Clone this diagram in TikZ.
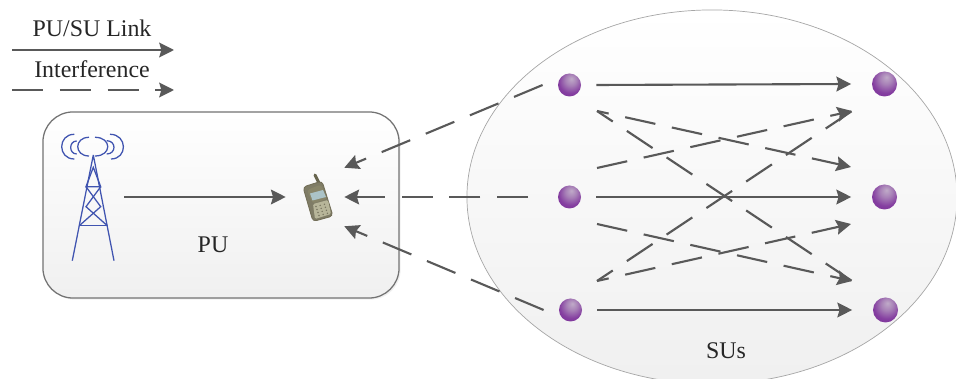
\documentclass[tikz,border=0pt]{standalone}
\usepackage{fontspec}
\usepackage{tikz}
\usetikzlibrary{arrows.meta,shapes.geometric,shadows}
\setmainfont{Liberation Serif}

\definecolor{linkgray}{HTML}{595959}
\definecolor{towerblue}{HTML}{4054B0}
\definecolor{ballpurple}{HTML}{7A2E98}
\pgfdeclareradialshading{sphere}{\pgfpoint{4bp}{14bp}}{color(0bp)=(ballpurple!35!white!80!gray); color(12bp)=(ballpurple!60!white!85!gray); color(26bp)=(ballpurple!92!white); color(40bp)=(ballpurple); color(50bp)=(ballpurple!75!white); color(62bp)=(ballpurple!55!white)}

\tikzset{
	link/.style={draw=linkgray,line width=1.5pt,-{Stealth[length=10.5pt,width=10.5pt,inset=1.5pt]}},
	jam/.style={link,dash pattern=on 22pt off 12pt},
	jamshort/.style={jam,dash phase=13.5pt},
	jammid/.style={jam,dash phase=8.5pt},
	ballnode/.style={shape=circle,shading=sphere,inner sep=0pt},
	region/.style={draw=gray!70,top color=white,bottom color=black!6},
	word/.style={text=black!85,font=\fontsize{17}{20}\selectfont},
	wave/.style={draw=towerblue,line width=.9pt},
}

\begin{document}
\begin{tikzpicture}[x=0.025cm,y=-0.025cm]
	\clip (0,0) rectangle (956,379);

	\node[region,shape=ellipse,line width=.5pt,minimum width=12.25cm,minimum height=9.35cm,inner sep=0pt] (cloud) at (712,197) {};
	\node[region,draw=black!55,shape=rectangle,line width=.9pt,rounded corners=.75cm,minimum width=8.9cm,minimum height=4.65cm,drop shadow={shadow xshift=.04cm,shadow yshift=-.04cm,opacity=.12}] (box) at (221,205) {};

	\node[ballnode,minimum size=.575cm,outer sep=.385cm] (s1) at (569.5,85)  {};
	\node[ballnode,minimum size=.575cm,outer sep=.385cm] (s2) at (569.5,197) {};
	\node[ballnode,minimum size=.575cm,outer sep=.385cm] (s3) at (570.5,310) {};
	\node[ballnode,minimum size=.625cm,outer sep=.52cm] (t1) at (884.5,84)  {};
	\node[ballnode,minimum size=.625cm,outer sep=.52cm] (t2) at (884.5,197) {};
	\node[ballnode,minimum size=.625cm,outer sep=.52cm] (t3) at (885.5,310) {};

	\node[minimum width=1.55cm,minimum height=3.2cm,inner sep=0pt] (tower) at (93,197) {};
	\node[minimum width=1.45cm,minimum height=1.45cm,inner sep=0pt] (phone) at (315,197) {};

	\node[word] (pu)   at (213,245) {PU};
	\node[word] (sus)  at (726,351) {SUs};
	\node[word] (lnk)  at (92,28)   {PU/SU Link};
	\node[word] (intf) at (92,69)   {Interference};

	\coordinate (l1) at (12,50);
	\coordinate (r1) at (174,50);
	\coordinate (l2) at (12,90);
	\coordinate (r2) at (174,90);
	\coordinate (a1) at (597,111);
	\coordinate (a2) at (597,168);
	\coordinate (a3) at (597,224);
	\coordinate (a4) at (597,281);
	\coordinate (b1) at (852,111);
	\coordinate (b2) at (851,167);
	\coordinate (b3) at (851,224);
	\coordinate (b4) at (852,281);

	% tower
	\draw[wave] (93.3,155) -- (72.3,260.7) (93.3,155) -- (114,260.7);
	\draw[wave] (93.3,167.3) -- (86,186.7) -- (100.7,186.7) -- cycle;
	\draw[wave] (79.3,225.7) -- (107.3,225.7);
	\draw[wave] (86,186.7) -- (100.7,206.7) -- (79.3,225.7);
	\draw[wave] (100.7,186.7) -- (86,206.7) -- (107.3,225.7);
	\foreach \xa/\ya/\xc/\xb/\yb in {89/137.3/74/89/156, 76.7/141/68.7/76.7/154, 74.3/134.3/57.5/74.3/159, 95/137.3/112/95/156, 106.7/140.7/116.4/106.7/154, 110/134.3/127.7/111/159}
		\draw[wave] (\xa,\ya) .. controls (\xc,\ya) and (\xc,\yb) .. (\xb,\yb);

	% phone
	\draw[draw=black!60!olive!60!gray,line width=2.2pt,line cap=round] (315,175) -- (319.5,184);
	\filldraw[draw=black!55!olive!50!gray,fill=black!45!olive!35!gray,line width=.6pt,rounded corners=2.5pt] (303,187) -- (322,181) -- (333,216) -- (313,221.5) -- cycle;
	\fill[olive!25!gray!65!white,rounded corners=1pt] (313,204) -- (328,200) -- (331,214) -- (315,219) -- cycle;
	\fill[black!25!olive!30!gray,rounded corners=2pt] (307,190) -- (321,184.5) -- (327,199) -- (312.5,203.5) -- cycle;
	\fill[blue!15!cyan!20!gray!55!white] (310,193.5) -- (323,190) -- (326,197) -- (312.5,200.5) -- cycle;
	\foreach \i in {0,1,2,3} \foreach \j in {0,1,2}
		\fill[black!50!olive!40!gray] ({316+\j*4.2+\i*1},{206.5-\j*1.1+\i*3}) circle (.6pt);

	\path (l1) edge[link] (r1);
	\path (l2) edge[jam] (r2);
	\path (tower.east) edge[link] (phone.west);

	\path (s1.west) edge[jam] (phone.north east);
	\path (s2.west) edge[jam,shorten <=.36cm] (phone.east);
	\path (s3.west) edge[jam] (phone.south east);

	\path (s1.east) edge[link] (t1.west);
	\path (s2.east) edge[link] (t2.west);
	\path (s3.east) edge[link] (t3.west);

	\path (a1) edge[jamshort] (b2);
	\path (a1) edge[jammid,-] (b4);
	\path (a2) edge[jam] (b1);
	\path (a3) edge[jam] (b4);
	\path (a4) edge[jamshort] (b3);
	\path (a4) edge[jammid,-] (b1);

\end{tikzpicture}
\end{document}
